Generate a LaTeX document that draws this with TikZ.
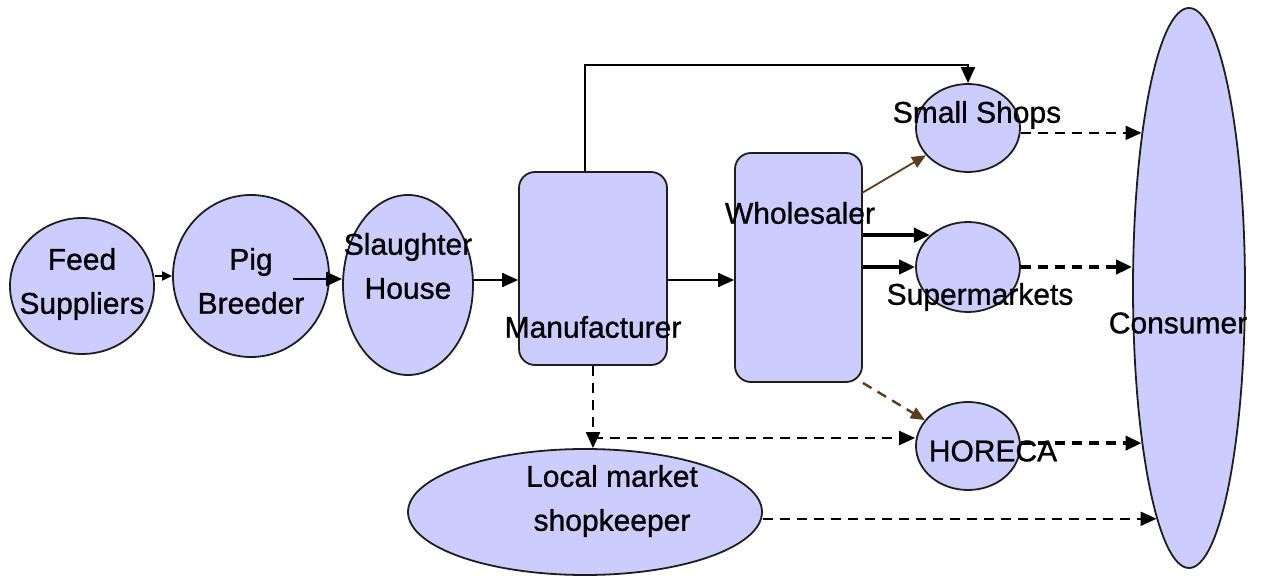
\documentclass[tikz,border=0pt]{standalone}
\usepackage{fontspec}
\setmainfont{Liberation Sans}
\newfontfamily\heavysans{Liberation Sans}[FakeBold=0.9]
\usetikzlibrary{shapes.geometric,arrows.meta}
\definecolor{lav}{RGB}{204,204,255}
\definecolor{edge}{RGB}{30,30,30}
\definecolor{brn}{RGB}{90,60,30}
\tikzset{
  ent/.style={draw=edge, fill=lav, line width=0.9pt, inner sep=0pt},
  oval/.style={ent, ellipse},
  box/.style={ent, rectangle, rounded corners=8pt},
  lbl/.style={font=\heavysans\fontsize{15}{22}\selectfont, align=center, inner sep=0pt},
  tip/.style={-{Triangle[length=8pt,width=7pt]}},
  flow/.style={tip, line width=1pt},
  bold flow/.style={tip, line width=2pt},
  thin flow/.style={-{Triangle[length=5pt,width=4.5pt]}, line width=1pt},
  brown flow/.style={-{Triangle[length=7pt,width=6pt]}, line width=0.9pt, draw=brn},
  dflow/.style={flow, dash pattern=on 5pt off 3.5pt},
  bold dflow/.style={bold flow, dash pattern=on 5pt off 3.5pt},
  brown dflow/.style={brown flow, line width=1.2pt, dash pattern=on 5pt off 3.5pt},
}
\begin{document}
\begin{tikzpicture}[x=0.5pt,y=-0.5pt]
\useasboundingbox (0,0) rectangle (1264,577);

% chain of actors
\node[oval, minimum width=72pt, minimum height=68pt] (feed) at (82,286) {};
\node[oval, minimum width=78pt, minimum height=81pt] (pig) at (251,276) {};
\node[oval, minimum width=65pt, minimum height=90pt] (slaughter) at (408,285) {};
\node[box, minimum width=74pt, minimum height=96.5pt] (manu) at (593,268.5) {};
\node[box, minimum width=63.5pt, minimum height=114.5pt] (whole) at (798.5,267.5) {};
\node[oval, minimum width=52pt, minimum height=44pt] (small) at (968,128) {};
\node[oval, minimum width=52pt, minimum height=45pt] (super) at (968,267) {};
\node[oval, minimum width=52pt, minimum height=44pt] (horeca) at (968,446) {};
\node[oval, minimum width=56pt, minimum height=280pt] (consumer) at (1189,288) {};
\node[oval, minimum width=177pt, minimum height=63pt] (local) at (585,512) {};

% helper coordinates
\coordinate (row) at (0,280);
\coordinate (pigout) at (293,279);
\coordinate (up) at (585,65);
\coordinate (wsmall) at (862,193);
\coordinate (split) at (0,438);

% main flow
\draw[thin flow] (feed.east |- pig.west) -- (pig.west);
\draw[flow] (pigout) -- (pigout -| slaughter.west);
\draw[flow] (slaughter.east |- row) -- (manu.west |- row);
\draw[flow] (manu.east |- row) -- (whole.west |- row);
\draw[flow] (up |- manu.north) -- (up) -- (up -| small.north) -- (small.north);

% wholesaler outlets
\draw[brown flow] (wsmall) -- (small.213);
\draw[bold flow] (whole.east |- super.140) -- (super.140);
\draw[bold flow] (whole.east |- super.west) -- (super.west);
\draw[brown dflow] (whole.south east) -- (horeca.149);

% manufacturer side channels
\draw[dflow] (manu.south) -- (manu.south |- local.north);
\draw[dflow] (manu.south |- split) -- (horeca.west |- split);

% to the consumer
\draw[dflow] (small.east |- consumer.107) -- (consumer.107);
\draw[bold dflow] (super.east) -- (super.east -| consumer.west);
\draw[bold dflow] (horeca.east |- consumer.253) -- (consumer.253);
\draw[dflow] (local.east |- consumer.262) -- (consumer.262);

% labels
\node[lbl] (tfeed) at (82,284) {Feed\\Suppliers};
\node[lbl] (tpig) at (251,281) {Pig\\Breeder};
\node[lbl] (tslaughter) at (408,266) {Slaughter\\House};
\node[lbl] (tmanu) at (593,327) {Manufacturer};
\node[lbl] (twhole) at (800,213) {Wholesaler};
\node[lbl] (tsmall) at (977,115) {Small Shops};
\node[lbl] (tsuper) at (980,297) {Supermarkets};
\node[lbl] (thoreca) at (993,451) {HORECA};
\node[lbl] (tconsumer) at (1178,323) {Consumer};
\node[lbl] (tlocal) at (612,501) {Local market\\shopkeeper};
\end{tikzpicture}
\end{document}
